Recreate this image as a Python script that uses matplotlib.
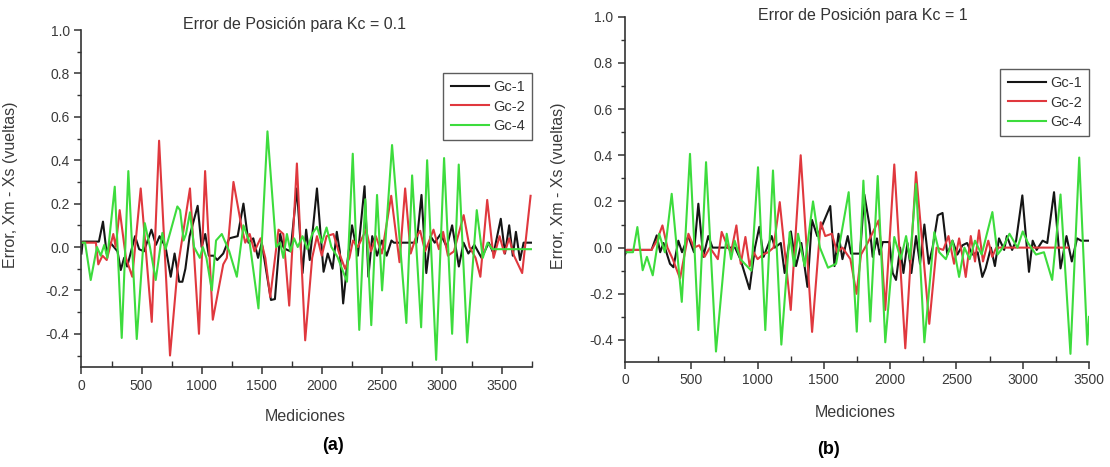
import numpy as np
import matplotlib.pyplot as plt
from matplotlib.ticker import MultipleLocator

plt.rcParams['font.family'] = ['Liberation Sans', 'DejaVu Sans']

# ---- panel (a): Kc = 0.1 ----
a_gc1_x = [0, 10, 145, 179, 210, 240, 300, 327, 355, 380, 446, 480, 520, 582, 620, 650, 700, 743, 775, 813, 840, 865,
           900, 967, 1000, 1030, 1060, 1100, 1130, 1180, 1230, 1300, 1348, 1390, 1430, 1470, 1500, 1577, 1610, 1654,
           1680, 1700, 1740, 1793, 1840, 1870, 1900, 1960, 2015, 2050, 2090, 2125, 2150, 2178, 2215, 2252, 2300,
           2356, 2388, 2420, 2460, 2500, 2540, 2580, 2600, 2790, 2830, 2870, 2905, 2940, 2990, 3040, 3085, 3141,
           3180, 3220, 3270, 3330, 3390, 3430, 3490, 3525, 3560, 3590, 3616, 3650, 3680, 3750]
a_gc1_y = [-0.03, 0.025, 0.025, 0.117, -0.03, 0.02, -0.02, -0.106, -0.05, -0.09, 0.05, -0.01, -0.02, 0.08, 0.01, 0.05,
           0.0, -0.137, -0.03, -0.16, -0.16, -0.1, 0.05, 0.19, 0.0, 0.06, -0.04, -0.04, -0.06, -0.03, 0.04, 0.05, 0.2,
           0.02, 0.04, -0.05, 0.02, -0.244, -0.24, 0.06, 0.0, -0.01, -0.02, 0.27, -0.12, 0.08, -0.06, 0.27, -0.114,
           -0.03, -0.1, 0.07, -0.02, -0.26, -0.06, 0.1, -0.04, 0.28, -0.137, 0.05, -0.04, 0.03, -0.04, 0.03, 0.02,
           0.02, 0.24, -0.12, 0.05, 0.02, 0.06, 0.0, 0.1, -0.09, 0.02, -0.03, 0.01, -0.05, 0.02, -0.03, 0.13, -0.03,
           0.1, -0.04, 0.07, -0.06, 0.02, 0.02]

a_gc2_x = [0, 120, 140, 175, 210, 265, 285, 318, 370, 423, 493, 585, 646, 737, 800, 903, 978, 1029, 1093, 1180, 1210,
           1265, 1330, 1363, 1400, 1440, 1490, 1530, 1571, 1600, 1640, 1680, 1729, 1793, 1862, 1920, 1960, 2000, 2040,
           2097, 2140, 2194, 2230, 2260, 2300, 2369, 2410, 2450, 2500, 2578, 2647, 2694, 2740, 2780, 2819, 2860, 2930,
           2975, 3010, 3050, 3100, 3181, 3230, 3280, 3320, 3377, 3430, 3480, 3520, 3560, 3600, 3668, 3738]
a_gc2_y = [0.02, 0.02, -0.08, -0.04, -0.06, 0.06, 0.0, 0.17, -0.05, -0.137, 0.27, -0.345, 0.49, -0.5, -0.1, 0.27, -0.4,
           0.35, -0.335, -0.08, -0.05, 0.3, 0.1, 0.02, 0.06, -0.02, 0.04, -0.05, -0.23, -0.1, 0.08, 0.06, -0.27, 0.385,
           -0.43, -0.05, 0.05, -0.04, 0.05, 0.06, -0.02, -0.1, -0.05, 0.03, 0.0, 0.08, -0.02, 0.05, -0.03, 0.236, -0.07,
           0.27, -0.03, 0.04, 0.075, -0.02, 0.08, -0.01, 0.07, -0.04, -0.02, 0.147, 0.0, -0.05, -0.137, 0.217, -0.05,
           0.05, -0.03, 0.04, -0.04, -0.12, 0.236]

a_gc4_x = [0, 30, 77, 129, 160, 190, 215, 277, 335, 390, 460, 527, 570, 618, 673, 700, 798, 821, 850, 870, 903, 937,
           985, 1010, 1040, 1085, 1120, 1168, 1230, 1293, 1348, 1400, 1473, 1548, 1620, 1654, 1680, 1710, 1740, 1770,
           1800, 1840, 1880, 1920, 1960, 2000, 2040, 2080, 2130, 2210, 2258, 2312, 2362, 2412, 2460, 2502, 2585, 2704,
           2752, 2827, 2877, 2952, 3018, 3085, 3140, 3210, 3290, 3340, 3380, 3420, 3750]
a_gc4_y = [0.02, 0.02, -0.152, 0.0, -0.04, 0.01, -0.05, 0.278, -0.419, 0.35, -0.424, 0.11, 0.0, -0.152, 0.065, -0.01,
           0.187, 0.17, 0.03, 0.06, 0.16, 0.0, -0.05, 0.0, -0.05, -0.2, 0.03, 0.06, -0.02, -0.137, 0.1, 0.02, -0.283,
           0.533, 0.0, 0.02, -0.05, 0.06, -0.02, 0.04, 0.0, 0.05, -0.01, 0.06, 0.093, 0.02, 0.09, 0.0, -0.045, -0.16,
           0.43, -0.382, 0.22, -0.36, 0.24, -0.2, 0.47, -0.35, 0.33, -0.37, 0.40, -0.52, 0.41, -0.40, 0.38, -0.44, 0.17,
           -0.05, 0.02, -0.01, -0.01]

# ---- panel (b): Kc = 1 ----
b_gc1_x = [0, 15, 200, 239, 265, 290, 339, 365, 402, 430, 477, 520, 553, 590, 628, 660, 830, 870, 939, 980, 1013, 1045,
           1106, 1130, 1175, 1204, 1251, 1290, 1330, 1376, 1410, 1450, 1490, 1548, 1580, 1610, 1640, 1680, 1705, 1773,
           1805, 1843, 1868, 1900, 1920, 1944, 1994, 2019, 2044, 2075, 2100, 2130, 2160, 2195, 2225, 2258, 2291, 2320,
           2359, 2395, 2431, 2470, 2507, 2545, 2580, 2620, 2660, 2695, 2720, 2760, 2790, 2821, 2860, 2880, 2920, 2950,
           2997, 3047, 3075, 3105, 3150, 3185, 3236, 3285, 3330, 3370, 3410, 3440, 3500]
b_gc1_y = [-0.03, -0.01, -0.01, 0.053, -0.02, 0.02, -0.07, -0.085, 0.03, -0.02, 0.05, -0.02, 0.19, -0.04, 0.05, 0.0,
           0.0, -0.05, -0.18, 0.0, 0.09, -0.04, 0.05, 0.0, 0.02, -0.11, 0.07, -0.08, 0.02, -0.17, 0.12, 0.05, 0.1, 0.18,
           -0.08, 0.06, -0.05, 0.05, -0.026, -0.026, 0.23, 0.10, -0.04, 0.04, -0.03, 0.024, 0.024, -0.11, -0.14, 0.0,
           -0.11, 0.02, -0.11, 0.05, -0.07, 0.1, -0.07, 0.0, 0.14, 0.15, -0.03, 0.03, -0.03, 0.01, 0.02, -0.03, -0.02,
           -0.127, -0.09, 0.0, -0.08, 0.04, -0.01, 0.05, -0.01, 0.03, 0.226, -0.105, 0.03, -0.01, 0.03, 0.02, 0.24,
           -0.09, 0.05, -0.06, 0.04, 0.03, 0.03]

b_gc2_x = [0, 200, 240, 282, 320, 360, 415, 478, 520, 560, 600, 640, 700, 729, 777, 800, 840, 873, 908, 940, 970, 1000,
           1040, 1080, 1120, 1167, 1250, 1325, 1411, 1476, 1510, 1560, 1600, 1640, 1700, 1746, 1780, 1830, 1913, 1935,
           1963, 2031, 2114, 2195, 2295, 2350, 2400, 2440, 2482, 2520, 2550, 2570, 2608, 2640, 2670, 2700, 2740, 2770,
           2800, 3340]
b_gc2_y = [-0.01, -0.01, 0.03, 0.096, 0.0, -0.05, -0.134, 0.06, 0.0, 0.01, -0.04, 0.0, -0.05, 0.068, 0.0, -0.02, 0.096,
           -0.07, 0.046, -0.08, -0.02, -0.05, -0.03, -0.02, 0.0, 0.197, -0.27, 0.4, -0.365, 0.11, 0.05, 0.06, -0.02, 0.0,
           -0.05, -0.2, -0.03, 0.02, 0.118, -0.02, -0.27, 0.36, -0.436, 0.327, -0.33, 0.0, -0.01, 0.05, -0.07, 0.04,
           -0.05, -0.127, 0.05, -0.06, 0.075, -0.06, 0.03, -0.04, 0.0, 0.0]

b_gc4_x = [0, 60, 93, 133, 165, 209, 257, 300, 352, 428, 490, 553, 611, 686, 767, 800, 827, 870, 953, 1003, 1058, 1116,
           1179, 1242, 1275, 1305, 1355, 1418, 1470, 1531, 1592, 1687, 1748, 1798, 1850, 1906, 1963, 2031, 2080, 2120,
           2150, 2195, 2258, 2333, 2370, 2420, 2470, 2520, 2560, 2600, 2640, 2690, 2771, 2810, 2850, 2900, 2960, 3000,
           3040, 3100, 3160, 3222, 3285, 3360, 3426, 3487, 3500]
b_gc4_y = [-0.02, -0.02, 0.089, -0.098, -0.04, -0.12, 0.06, -0.02, 0.233, -0.235, 0.406, -0.357, 0.37, -0.45, 0.06,
           -0.05, 0.03, -0.05, -0.1, 0.348, -0.357, 0.334, -0.42, 0.067, -0.08, 0.06, -0.08, 0.2, 0.0, -0.087, -0.07,
           0.24, -0.364, 0.29, -0.32, 0.31, -0.41, 0.046, -0.05, 0.05, -0.05, 0.276, -0.41, 0.067, -0.02, -0.05, 0.03,
           -0.127, 0.0, -0.05, 0.03, -0.03, 0.154, -0.03, 0.0, 0.06, 0.0, 0.07, 0.02, -0.03, -0.02, -0.14, 0.23, -0.46,
           0.39, -0.42, -0.3]

labels = ['Gc-1', 'Gc-2', 'Gc-4']
colors = ['#151515', '#e0383e', '#3ddc3d']
axis_col = '#333333'

fig = plt.figure(figsize=(11.1, 4.67), dpi=100)
ax1 = fig.add_axes([0.0734, 0.2141, 0.4059, 0.7216])
ax2 = fig.add_axes([0.5631, 0.2255, 0.418, 0.7388])

panels = [
    (ax1, [(a_gc1_x, a_gc1_y), (a_gc2_x, a_gc2_y), (a_gc4_x, a_gc4_y)], 3750, -0.553,
     'Error de Posición para Kc = 0.1', (0.472, 1.015), (1.0, 0.872)),
    (ax2, [(b_gc1_x, b_gc1_y), (b_gc2_x, b_gc2_y), (b_gc4_x, b_gc4_y)], 3500, -0.494,
     'Error de Posición para Kc = 1', (0.513, 1.002), (1.0, 0.848)),
]

for ax, series, xmax, ymin, title, tpos, lpos in panels:
    for (xs, ys), lab, c in zip(series, labels, colors):
        ax.plot(xs, ys, color=c, lw=1.5, label=lab, solid_joinstyle='round')
    ax.set_xlim(0, xmax)
    ax.set_ylim(ymin, 1.0)
    ax.xaxis.set_major_locator(MultipleLocator(500))
    ax.xaxis.set_minor_locator(MultipleLocator(250))
    ax.yaxis.set_minor_locator(MultipleLocator(0.1))
    ax.set_yticks(np.arange(-0.4, 1.01, 0.2))
    ax.yaxis.set_major_formatter(plt.FuncFormatter(lambda v, p: '%.1f' % (0.0 if abs(v) < 1e-9 else v)))
    for s in ['top', 'right']:
        ax.spines[s].set_visible(False)
    for s in ['left', 'bottom']:
        ax.spines[s].set_color(axis_col)
        ax.spines[s].set_linewidth(1.2)
    ax.tick_params(which='major', direction='out', length=5, width=1.1, color=axis_col,
                   labelsize=10, labelcolor='#3a3a3a')
    ax.tick_params(axis='x', which='minor', direction='in', length=4, width=1.0, color=axis_col)
    ax.tick_params(axis='y', which='minor', direction='out', length=3, width=1.0, color=axis_col)
    ax.set_xlabel('Mediciones', fontsize=11.5, color='#3a3a3a')
    ax.xaxis.set_label_coords(0.497, -0.125)
    ax.set_ylabel('Error, Xm - Xs (vueltas)', fontsize=11.5, color='#3a3a3a')
    ax.text(tpos[0], tpos[1], title, transform=ax.transAxes, ha='center', va='center',
            fontsize=11.5, color='#333333')
    leg = ax.legend(loc='upper right', bbox_to_anchor=lpos, fontsize=10.5, frameon=True, fancybox=False,
                    handlelength=2.6, labelspacing=0.35, borderpad=0.5, handletextpad=0.3, borderaxespad=0)
    leg.get_frame().set_edgecolor('#333333')
    leg.get_frame().set_linewidth(1.0)
    for t in leg.get_texts():
        t.set_color('#333333')

ax1.yaxis.set_label_coords(-0.141, 0.54)
ax2.yaxis.set_label_coords(-0.128, 0.51)

fig.text(333 / 1110, 1 - 445 / 467, '(a)', ha='center', va='center', fontsize=13, fontweight='bold')
fig.text(828 / 1110, 1 - 450 / 467, '(b)', ha='center', va='center', fontsize=13, fontweight='bold')

fig.savefig('out.png', dpi=100)
